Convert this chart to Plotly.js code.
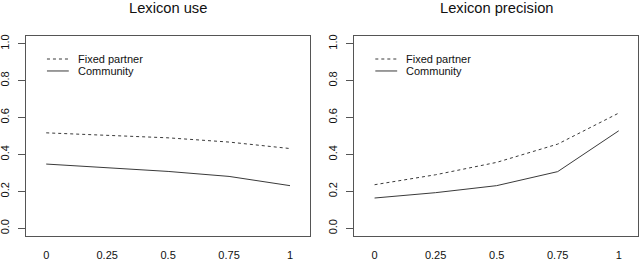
<!DOCTYPE html>
<html>
<head>
<meta charset="utf-8">
<script src="https://cdn.plot.ly/plotly-3.0.1.min.js"></script>
<style>html,body{margin:0;padding:0;background:#fff;}#chart{width:640px;height:261px;}</style>
</head>
<body>
<div id="chart"></div>
<script>
const xValues = [0, 0.25, 0.5, 0.75, 1];
const xTickLabels = ['0', '0.25', '0.5', '0.75', '1'];
const yTickValues = [0, 0.2, 0.4, 0.6, 0.8, 1.0];
const yTickLabels = ['0.0', '0.2', '0.4', '0.6', '0.8', '1.0'];
const seriesNames = ['Fixed partner', 'Community'];
const panelTitles = ['Lexicon use', 'Lexicon precision'];

const useFixed = [0.517, 0.505, 0.490, 0.467, 0.432];
const useCommunity = [0.348, 0.330, 0.308, 0.281, 0.231];
const precisionFixed = [0.236, 0.290, 0.357, 0.456, 0.624];
const precisionCommunity = [0.164, 0.193, 0.231, 0.307, 0.528];

const font = 'Liberation Sans, Arial, Helvetica, sans-serif';
const lineColor = '#3a3a3a';
const dashStyle = '3px,3px';

function trace(y, name, dashed, xa, ya) {
  return {
    x: xValues, y: y, name: name, type: 'scatter', mode: 'lines',
    xaxis: xa, yaxis: ya, showlegend: false,
    line: {color: lineColor, width: 1, dash: dashed ? dashStyle : 'solid'},
    hoverinfo: 'skip'
  };
}

const data = [
  trace(useFixed, seriesNames[0], true, 'x', 'y'),
  trace(useCommunity, seriesNames[1], false, 'x', 'y'),
  trace(precisionFixed, seriesNames[0], true, 'x2', 'y2'),
  trace(precisionCommunity, seriesNames[1], false, 'x2', 'y2')
];

function xaxis(domain, anchor) {
  return {
    domain: domain, anchor: anchor, range: [-0.083, 1.08],
    tickmode: 'array', tickvals: xValues, ticktext: xTickLabels,
    ticks: '', showgrid: false, zeroline: false,
    showline: true, mirror: true, linecolor: '#555', linewidth: 1,
    ticklabelstandoff: 9,
    tickfont: {family: font, size: 11, color: '#111'}
  };
}
function yaxis(domain, anchor) {
  return {
    domain: domain, anchor: anchor, range: [-0.04, 1.04],
    tickmode: 'array', tickvals: yTickValues, ticktext: yTickLabels,
    ticks: 'outside', ticklen: 7, tickcolor: '#555', tickwidth: 1,
    tickangle: -90, ticklabelstandoff: 5,
    showgrid: false, zeroline: false,
    showline: true, mirror: true, linecolor: '#555', linewidth: 1,
    tickfont: {family: font, size: 11, color: '#111'}
  };
}

const yDom = [0.097, 0.861];

// Legend drawn inside each panel (axis-domain coordinates)
const legendLineX = [0.074, 0.151];
const legendTextX = 0.176;
const legendRowY = [0.886, 0.826];
const shapes = [];
const annotations = [];
['x', 'x2'].forEach(function (xa, p) {
  const ya = p === 0 ? 'y' : 'y2';
  seriesNames.forEach(function (name, i) {
    shapes.push({
      type: 'line', xref: xa + ' domain', yref: ya + ' domain',
      x0: legendLineX[0], x1: legendLineX[1], y0: legendRowY[i], y1: legendRowY[i],
      line: {color: lineColor, width: 1, dash: i === 0 ? dashStyle : 'solid'}
    });
    annotations.push({
      text: name, xref: xa + ' domain', yref: ya + ' domain',
      x: legendTextX, y: legendRowY[i], xanchor: 'left', yanchor: 'middle',
      showarrow: false, font: {family: font, size: 11, color: '#111'}
    });
  });
  annotations.push({
    text: panelTitles[p], xref: xa + ' domain', yref: 'paper', x: 0.5, y: 1 - 8/261,
    showarrow: false, xanchor: 'center', yanchor: 'middle',
    font: {family: font, size: 14.7, color: '#111'}
  });
});

const layout = {
  width: 640, height: 261,
  margin: {l: 0, r: 0, t: 0, b: 0},
  paper_bgcolor: '#fff', plot_bgcolor: '#fff',
  showlegend: false,
  xaxis: xaxis([0.0406, 0.4836], 'y'),
  yaxis: yaxis(yDom, 'x'),
  xaxis2: xaxis([0.5536, 0.9973], 'y2'),
  yaxis2: yaxis(yDom, 'x2'),
  shapes: shapes,
  annotations: annotations
};

Plotly.newPlot('chart', data, layout, {staticPlot: true, displayModeBar: false});
</script>
</body>
</html>
